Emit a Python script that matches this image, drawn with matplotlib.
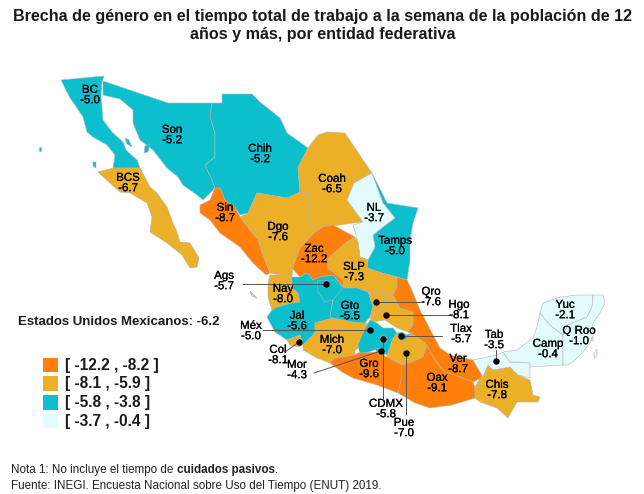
from matplotlib import pyplot as plt
from matplotlib.patches import Polygon, Rectangle
from matplotlib import patheffects as pe
import numpy as np

plt.rcParams['font.family'] = ['Liberation Sans', 'DejaVu Sans']

# valores por entidad
states = ['BC', 'BCS', 'Son', 'Chih', 'Coah', 'Tamps', 'NL', 'Sin', 'Dgo', 'Zac', 'SLP', 'Nay',
          'Jal', 'Ags', 'Gto', 'Qro', 'Hgo', 'Ver', 'Mich', 'Col', 'Méx', 'CDMX', 'Mor', 'Tlax',
          'Pue', 'Gro', 'Oax', 'Chis', 'Tab', 'Camp', 'Yuc', 'Q Roo']
values = [-5.0, -6.7, -5.2, -5.2, -6.5, -5.0, -3.7, -8.7, -7.6, -12.2, -7.3, -8.0,
          -5.6, -5.7, -5.5, -7.6, -8.1, -8.7, -7.0, -8.1, -5.0, -5.8, -4.3, -5.7,
          -7.0, -9.6, -9.1, -7.8, -3.5, -0.4, -2.1, -1.0]

legend_labels = ['[ -12.2 , -8.2 ]', '[ -8.1 , -5.9 ]', '[ -5.8 , -3.8 ]', '[ -3.7 , -0.4 ]']
legend_colors = ['#FF7F0A', '#EBAF28', '#0BBFCC', '#E2FBFD']
class_edges = [-8.15, -5.85, -3.75]

# contornos aproximados, en pixeles
outlines = {
    'BC': [(61, 80), (104, 76), (102, 82), (101, 96), (103, 120), (112, 132), (123, 142), (126, 150),
           (137, 160), (140, 168), (113, 168), (115, 155), (107, 145), (93, 137), (87, 132), (83, 117),
           (75, 105), (70, 98)],
    'BCS': [(98, 172), (113, 168), (140, 168), (150, 187), (157, 193), (167, 207), (173, 223), (177, 232),
            (180, 242), (190, 243), (199, 258), (197, 267), (190, 268), (182, 255), (167, 243), (150, 232),
            (152, 217), (147, 203), (130, 193), (120, 192), (110, 183)],
    'Son': [(103, 81), (168, 103), (212, 103), (210, 117), (215, 133), (215, 157), (205, 165), (212, 180),
            (215, 188), (203, 200), (197, 195), (183, 185), (178, 177), (167, 168), (153, 150), (140, 140),
            (133, 123), (133, 110), (120, 99), (103, 95)],
    'Chih': [(212, 103), (222, 103), (222, 94), (252, 94), (260, 102), (280, 118), (287, 133), (308, 148),
             (298, 167), (300, 192), (287, 198), (257, 193), (248, 213), (240, 215), (235, 207), (225, 200),
             (220, 188), (215, 188), (212, 180), (205, 165), (215, 157), (215, 133), (210, 117)],
    'Coah': [(308, 148), (318, 135), (327, 132), (345, 133), (355, 148), (363, 160), (372, 173), (354, 183),
             (347, 200), (363, 222), (353, 223), (333, 226), (323, 227), (315, 232), (308, 220), (308, 193),
             (300, 192), (298, 167)],
    'Tamps': [(372, 173), (378, 185), (387, 203), (418, 208), (413, 223), (410, 240), (410, 260), (407, 280),
              (397, 277), (382, 273), (367, 268), (368, 260), (375, 247), (373, 235), (383, 227), (395, 218),
              (383, 203), (377, 187)],
    'NL': [(372, 173), (377, 187), (383, 203), (395, 218), (383, 227), (373, 235), (375, 247), (368, 260),
           (360, 257), (358, 242), (353, 225), (363, 222), (347, 200), (354, 183)],
    'Sin': [(215, 188), (220, 188), (225, 200), (235, 207), (240, 217), (258, 240), (262, 252), (270, 273),
            (266, 275), (253, 263), (240, 247), (220, 233), (210, 220), (200, 213), (200, 205), (210, 200)],
    'Dgo': [(240, 217), (248, 213), (257, 193), (287, 198), (300, 192), (308, 193), (308, 220), (315, 232),
            (300, 248), (293, 267), (292, 277), (280, 275), (270, 273), (262, 252), (258, 240)],
    'Zac': [(315, 232), (323, 227), (333, 225), (355, 237), (347, 242), (338, 250), (328, 258), (328, 268),
            (343, 280), (344, 288), (333, 275), (320, 277), (313, 280), (307, 273), (300, 277), (292, 268),
            (293, 267), (300, 248)],
    'SLP': [(355, 237), (358, 242), (360, 257), (368, 260), (367, 268), (382, 273), (397, 277), (397, 287),
            (393, 295), (385, 293), (373, 293), (368, 292), (357, 288), (343, 288), (343, 280), (328, 268),
            (328, 258), (338, 250), (347, 242)],
    'Nay': [(270, 275), (280, 275), (292, 277), (292, 288), (298, 293), (300, 302), (292, 303), (277, 307),
            (272, 310), (268, 297), (268, 283)],
    'Jal': [(267, 317), (272, 310), (277, 307), (292, 303), (300, 302), (298, 293), (292, 288), (292, 277),
            (300, 277), (307, 273), (313, 280), (320, 277), (333, 275), (344, 288), (333, 300), (330, 317),
            (333, 318), (315, 323), (315, 333), (303, 345), (300, 335), (287, 340), (275, 332)],
    'Ags': [(317, 281), (333, 280), (344, 288), (340, 298), (325, 302), (318, 292)],
    'Gto': [(333, 300), (343, 288), (357, 288), (368, 292), (370, 297), (373, 307), (370, 317), (363, 325),
            (347, 323), (335, 320), (330, 317)],
    'Qro': [(368, 292), (373, 293), (385, 293), (385, 305), (378, 313), (370, 317), (373, 307), (370, 297)],
    'Hgo': [(385, 293), (393, 295), (400, 308), (413, 312), (413, 325), (408, 332), (397, 328), (385, 320),
            (372, 322), (370, 317), (378, 313), (385, 305)],
    'Ver': [(397, 277), (407, 280), (413, 293), (420, 310), (432, 333), (440, 348), (450, 355), (473, 360),
            (483, 377), (473, 382), (460, 377), (445, 372), (440, 367), (430, 352), (427, 345), (417, 337),
            (408, 332), (413, 325), (413, 312), (400, 308), (393, 295), (397, 287)],
    'Mich': [(315, 323), (333, 318), (353, 322), (367, 323), (360, 347), (355, 350), (355, 355), (335, 358),
             (330, 363), (317, 358), (303, 350), (303, 345), (315, 333)],
    'Col': [(287, 340), (300, 335), (303, 345), (298, 347), (290, 345)],
    'Méx': [(367, 325), (370, 320), (377, 323), (383, 328), (393, 328), (397, 333), (392, 340), (390, 348),
            (387, 355), (380, 348), (360, 355), (358, 345), (363, 333)],
    'CDMX': [(380, 336), (386, 336), (387, 342), (381, 343)],
    'Mor': [(375, 349), (380, 348), (387, 355), (377, 352)],
    'Tlax': [(397, 333), (402, 332), (407, 335), (412, 333), (405, 340), (400, 340)],
    'Pue': [(397, 333), (400, 340), (405, 340), (412, 333), (408, 332), (417, 337), (427, 345), (423, 357),
            (412, 362), (402, 365), (387, 357), (387, 355), (390, 348), (392, 340)],
    'Gro': [(330, 363), (335, 358), (355, 355), (358, 353), (377, 352), (387, 357), (402, 365), (401, 380),
            (398, 393), (377, 385), (353, 378), (342, 372)],
    'Oax': [(402, 365), (412, 362), (423, 357), (427, 345), (430, 352), (440, 367), (445, 372), (460, 377),
            (473, 382), (475, 388), (475, 398), (452, 405), (430, 408), (415, 403), (398, 393), (401, 380)],
    'Chis': [(475, 398), (475, 387), (488, 365), (493, 370), (510, 367), (518, 375), (530, 380), (533, 395),
             (540, 397), (538, 402), (517, 402), (508, 418), (497, 408), (480, 402)],
    'Tab': [(473, 360), (497, 355), (503, 352), (510, 362), (518, 362), (530, 363), (530, 378), (518, 375),
            (510, 367), (493, 370), (488, 365), (483, 377)],
    'Camp': [(503, 352), (517, 350), (533, 338), (537, 327), (540, 313), (550, 325), (563, 335), (563, 365),
             (530, 367), (530, 363), (518, 362), (510, 362)],
    'Yuc': [(540, 313), (543, 303), (560, 297), (577, 295), (593, 295), (592, 307), (587, 317), (568, 325),
            (563, 335), (550, 325)],
    'Q Roo': [(593, 295), (603, 295), (605, 303), (600, 313), (593, 323), (592, 340), (583, 352), (575, 360),
              (568, 365), (563, 365), (563, 335), (568, 325), (587, 317), (592, 307)],
}
# pedazos sueltos: lobulo de Zac e islas
extra_parts = {
    'Zac': [[(312, 287), (320, 293), (317, 300), (307, 303), (303, 297)]],
    'BC': [[(125, 138), (129, 140), (132, 147), (127, 144)], [(93, 162), (96, 162), (96, 168), (93, 166)]],
    'Son': [[(145, 146), (150, 144), (148, 152), (144, 153)], [(39, 147), (41, 147), (41, 151), (39, 151)]],
    'Q Roo': [[(594, 353), (597, 349), (597, 356), (594, 358)], [(591, 340), (593, 336), (593, 341)]],
}

# posicion del centro de cada rotulo (nombre y valor)
label_pos = {
    'BC': (90, 95), 'Son': (172, 135), 'Chih': (260, 154), 'Coah': (332, 184), 'BCS': (128, 183),
    'Sin': (225, 213), 'Dgo': (278, 232), 'NL': (374, 213), 'Tamps': (395, 246), 'Zac': (314, 254),
    'SLP': (354, 272), 'Ags': (224, 281), 'Nay': (283, 294), 'Gto': (350, 311), 'Qro': (431, 297),
    'Hgo': (459, 310), 'Jal': (297, 321), 'Méx': (251, 331), 'Tlax': (461, 334), 'Mich': (332, 345),
    'Tab': (494, 340), 'Yuc': (565, 310), 'Q Roo': (579, 336), 'Camp': (548, 349), 'Ver': (458, 364),
    'Oax': (437, 383), 'Chis': (497, 390), 'Gro': (369, 369), 'Col': (278, 355), 'Mor': (297, 370),
    'CDMX': (386, 409), 'Pue': (404, 428),
}

# lineas guia: entidad -> (punto, extremo de la linea)
leaders = {
    'Ags': ((326, 284), (243, 284)), 'Qro': ((376, 302), (420, 302)), 'Hgo': ((386, 315), (450, 315)),
    'Méx': ((370, 330), (263, 330)), 'Tlax': ((401, 336), (442, 336)), 'CDMX': ((383, 339), (383, 398)),
    'Pue': ((406, 353), (406, 414)), 'Mor': ((381, 351), (314, 373)), 'Col': ((299, 342), (285, 352)),
    'Tab': ((496, 361), (496, 350)),
}

fig = plt.figure(figsize=(6.44, 4.94), dpi=100)
ax = fig.add_axes([0, 0, 1, 1])
ax.set_xlim(0, 644)
ax.set_ylim(494, 0)
ax.axis('off')

for name, val in zip(states, values):
    color = legend_colors[np.digitize(val, class_edges)]
    for part in [outlines[name]] + extra_parts.get(name, []):
        ax.add_patch(Polygon(part, closed=True, facecolor=color, edgecolor='#b4b4b4', linewidth=0.4, zorder=2))

# islas Marias
ax.add_patch(Polygon([(250, 291), (254, 295), (257, 298), (252, 296)], closed=True,
                     facecolor='#d0d0d0', edgecolor='#a5a5a5', linewidth=0.4, zorder=2))

for name, (dot, end) in leaders.items():
    ax.plot([dot[0], end[0]], [dot[1], end[1]], color='#555555', lw=0.7, zorder=3)
    ax.plot(dot[0], dot[1], 'o', color='black', ms=3.6, zorder=4)

# el texto del original se ve algo mas grueso
thick = [pe.withStroke(linewidth=0.15, foreground='black')]
for name, val in zip(states, values):
    x, y = label_pos[name]
    ax.text(x, y, '%s\n%.1f' % (name, val), ha='center', va='center', ma='center', fontsize=8.3,
            linespacing=0.82, color='black', zorder=5, path_effects=thick)

ax.text(323, 16, 'Brecha de género en el tiempo total de trabajo a la semana de la población de 12',
        ha='center', va='center', fontsize=11.6, fontweight='bold', color='#1a1a1a')
ax.text(323, 34, 'años y más, por entidad federativa',
        ha='center', va='center', fontsize=11.6, fontweight='bold', color='#1a1a1a')

ax.text(18, 322, 'Estados Unidos Mexicanos: -6.2', ha='left', va='center', fontsize=9.5, fontweight='bold',
        color='#1a1a1a')

for i, (lab, col) in enumerate(zip(legend_labels, legend_colors)):
    yy = 365 + i * 18.7
    ax.add_patch(Rectangle((43, yy - 7.3), 15.5, 14.6, facecolor=col, edgecolor='none', zorder=2))
    ax.text(65, yy, lab, ha='left', va='center', fontsize=11.2, fontweight='bold', color='#1a1a1a')

t1 = ax.text(11, 470, 'Nota 1: No incluye el tiempo de ', ha='left', va='center', fontsize=8.4, color='#222222')
t2 = ax.annotate('cuidados pasivos', xy=(1, 0), xycoords=t1, va='bottom', ha='left', fontsize=8.4,
                 fontweight='bold', color='#222222')
ax.annotate('.', xy=(1, 0), xycoords=t2, va='bottom', ha='left', fontsize=8.4, color='#222222')
ax.text(11, 486, 'Fuente: INEGI. Encuesta Nacional sobre Uso del Tiempo (ENUT) 2019.', ha='left', va='center',
        fontsize=8.4, color='#222222')

fig.savefig('out.png', dpi=100, facecolor='white')
